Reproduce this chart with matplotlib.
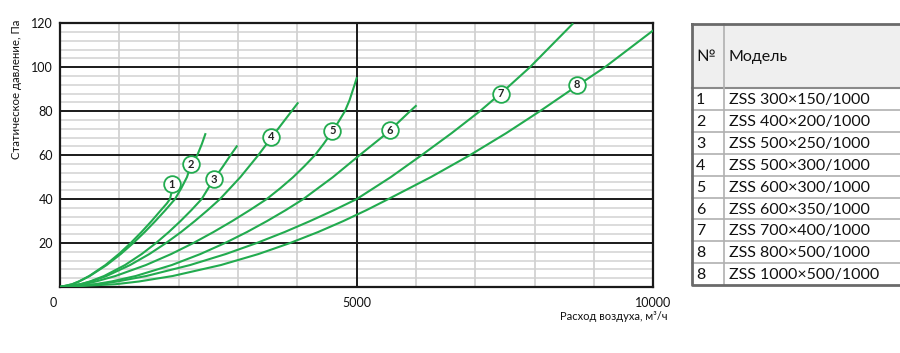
import matplotlib
matplotlib.use("Agg")
import matplotlib.pyplot as plt
from matplotlib.patches import Rectangle
from matplotlib.transforms import ScaledTranslation

plt.rcParams['font.family'] = ['Lato', 'DejaVu Sans']

# ---- data (air flow m3/h, static pressure Pa) ----
c1_q = [0, 204, 316, 492, 766, 991, 1191, 1373, 1543, 1702, 1800, 1853, 1880, 1905, 1955]
c1_p = [0, 1.25, 2.5, 5, 10, 15, 20, 25, 30, 35, 38, 40, 43, 46, 50]
c2_q = [0, 204, 320, 501, 787, 1024, 1235, 1428, 1607, 1777, 1938, 2045, 2140, 2200, 2314, 2390, 2455]
c2_p = [0, 1.25, 2.5, 5, 10, 15, 20, 25, 30, 35, 40, 45, 50, 55, 60, 65, 70]
c3_q = [0, 341, 503, 743, 1097, 1377, 1618, 1833, 2031, 2215, 2387, 2500, 2620, 2750, 2875, 2990]
c3_p = [0, 1.25, 2.5, 5, 10, 15, 20, 25, 30, 35, 40, 45, 50, 55, 60, 64.4]
c4_q = [0, 345, 520, 784, 1182, 1506, 1786, 2040, 2272, 2490, 2696, 3040, 3342, 3620, 3903, 4016]
c4_p = [0, 1.25, 2.5, 5, 10, 15, 20, 25, 30, 35, 40, 50, 60, 70, 80, 84]
c5_q = [0, 391, 604, 935, 1449, 1874, 2247, 2586, 2903, 3200, 3483, 3715, 3930, 4120,
        4297, 4440, 4570, 4690, 4802, 4880, 4965, 5005]
c5_p = [0, 1.25, 2.5, 5, 10, 15, 20, 25, 30, 35, 40, 45, 50, 55,
        60, 65, 70, 75, 80, 85, 92, 95.5]
c6_q = [0, 587, 865, 1276, 1885, 2366, 2780, 3150, 3489, 3806, 4100, 4600, 5050, 5510, 5900, 6010]
c6_p = [0, 1.25, 2.5, 5, 10, 15, 20, 25, 30, 35, 40, 50, 60, 70, 80, 82.7]
c7_q = [0, 640, 964, 1455, 2194, 2794, 3314, 3785, 4215, 4620, 5000, 5575, 6095, 6600, 7077, 7510, 7920, 8650]
c7_p = [0, 1.25, 2.5, 5, 10, 15, 20, 25, 30, 35, 40, 50, 60, 70, 80, 90, 100, 120]
c8_q = [0, 930, 1329, 1899, 2713, 3345, 3876, 4349, 4775, 5167, 5533, 6250, 6909, 7520, 8088, 8630, 9183, 10000]
c8_p = [0, 1.25, 2.5, 5, 10, 15, 20, 25, 30, 35, 40, 50, 60, 70, 80, 90, 100, 116.8]

curve_q = [c1_q, c2_q, c3_q, c4_q, c5_q, c6_q, c7_q, c8_q]
curve_p = [c1_p, c2_p, c3_p, c4_p, c5_p, c6_p, c7_p, c8_p]

label_text = ['1', '2', '3', '4', '5', '6', '7', '8']
label_q = [1880, 2207, 2595, 3555, 4589, 5566, 7431, 8717]
label_p = [46.8, 55.8, 49, 68.3, 71.2, 71.4, 88, 92.1]

x_ticks = [0, 5000, 10000]
y_ticks = [20, 40, 60, 80, 100, 120]

table_nums = ['1', '2', '3', '4', '5', '6', '7', '8', '8']
table_models = ['ZSS 300×150/1000', 'ZSS 400×200/1000', 'ZSS 500×250/1000',
                'ZSS 500×300/1000', 'ZSS 600×300/1000', 'ZSS 600×350/1000',
                'ZSS 700×400/1000', 'ZSS 800×500/1000', 'ZSS 1000×500/1000']

GREEN = '#22ab4f'
W, H = 900, 353

fig = plt.figure(figsize=(W / 100, H / 100), dpi=100)
ax = fig.add_axes([60 / W, 1 - 287 / H, (653.3 - 60) / W, (287 - 23.3) / H])

ax.set_xlim(0, 10000)
ax.set_ylim(0, 120)

# grid
for xv in range(1000, 10000, 1000):
    if xv % 5000:
        ax.axvline(xv, color='#d2d2d2', lw=1.3, zorder=1)
for yv in range(4, 120, 4):
    if yv % 20:
        ax.axhline(yv, color='#d2d2d2', lw=1.1, zorder=1)
for yv in range(20, 120, 20):
    ax.axhline(yv, color='#1a1a1a', lw=1.4, zorder=2)
ax.axvline(5000, color='#1a1a1a', lw=1.4, zorder=2)

for q, p in zip(curve_q, curve_p):
    ax.plot(q, p, color=GREEN, lw=1.5, zorder=3, solid_capstyle='butt',
            solid_joinstyle='round')

for t, q, p in zip(label_text, label_q, label_p):
    ax.plot(q, p, 'o', ms=12, mfc='white', mec=GREEN, mew=1.3, zorder=4)
    ax.text(q, p, t, ha='center', va='center', fontsize=8, color='#222222',
            fontweight='bold', zorder=5)

for s in ax.spines.values():
    s.set_color('#1a1a1a')
    s.set_linewidth(1.6)

ax.set_xticks(x_ticks)
ax.set_xticklabels([str(v) for v in x_ticks])
ax.set_yticks(y_ticks)
ax.set_yticklabels([str(v) for v in y_ticks])
ax.tick_params(length=0, labelsize=9, colors='#111111', pad=5)
ax.tick_params(axis='x', pad=7)
lab0 = ax.get_xticklabels()[0]
lab0.set_transform(lab0.get_transform() + ScaledTranslation(-7 / 100, 0, fig.dpi_scale_trans))

fig.text(668 / W, 1 - 316 / H, 'Расход воздуха, м³/ч', ha='right', va='center',
         fontsize=8, color='#111111')
fig.text(17 / W, 1 - 20 / H, 'Статическое давление, Па', rotation=90, ha='center',
         va='top', fontsize=8.2, color='#111111')

# table drawn in pixel coordinates
tax = fig.add_axes([0, 0, 1, 1])
tax.set_xlim(0, W)
tax.set_ylim(H, 0)
tax.axis('off')
tax.set_zorder(-1)

left, right, top, header_bot = 691.5, 910, 24, 88.3
row_h = (285 - header_bot) / len(table_models)
bottom = header_bot + row_h * len(table_models)
col = 724.3
tax.add_patch(Rectangle((left, top), right - left, header_bot - top,
                        facecolor='#efefef', edgecolor='none'))
for i in range(1, len(table_models)):
    y = header_bot + i * row_h
    tax.plot([left, right], [y, y], color='#b0b0b0', lw=1.2)
tax.plot([left, right], [header_bot, header_bot], color='#8a8a8a', lw=1.5)
tax.plot([col, col], [top, bottom], color='#b0b0b0', lw=1.2)
tax.plot([left, right, right, left, left], [top, top, bottom, bottom, top],
         color='#6a6a6a', lw=2)

tax.text(696, (top + header_bot) / 2 + 1, '№', ha='left', va='center', fontsize=11.5,
         color='#111111')
tax.text(729, (top + header_bot) / 2 + 1, 'Модель', ha='left', va='center', fontsize=11.5,
         color='#111111')
for i, (n, m) in enumerate(zip(table_nums, table_models)):
    yc = header_bot + (i + 0.5) * row_h + 1
    tax.text(696, yc, n, ha='left', va='center', fontsize=11.5, color='#111111')
    tax.text(729, yc, m, ha='left', va='center', fontsize=11.5, color='#111111')

fig.savefig('out.png', dpi=100, facecolor='white')
